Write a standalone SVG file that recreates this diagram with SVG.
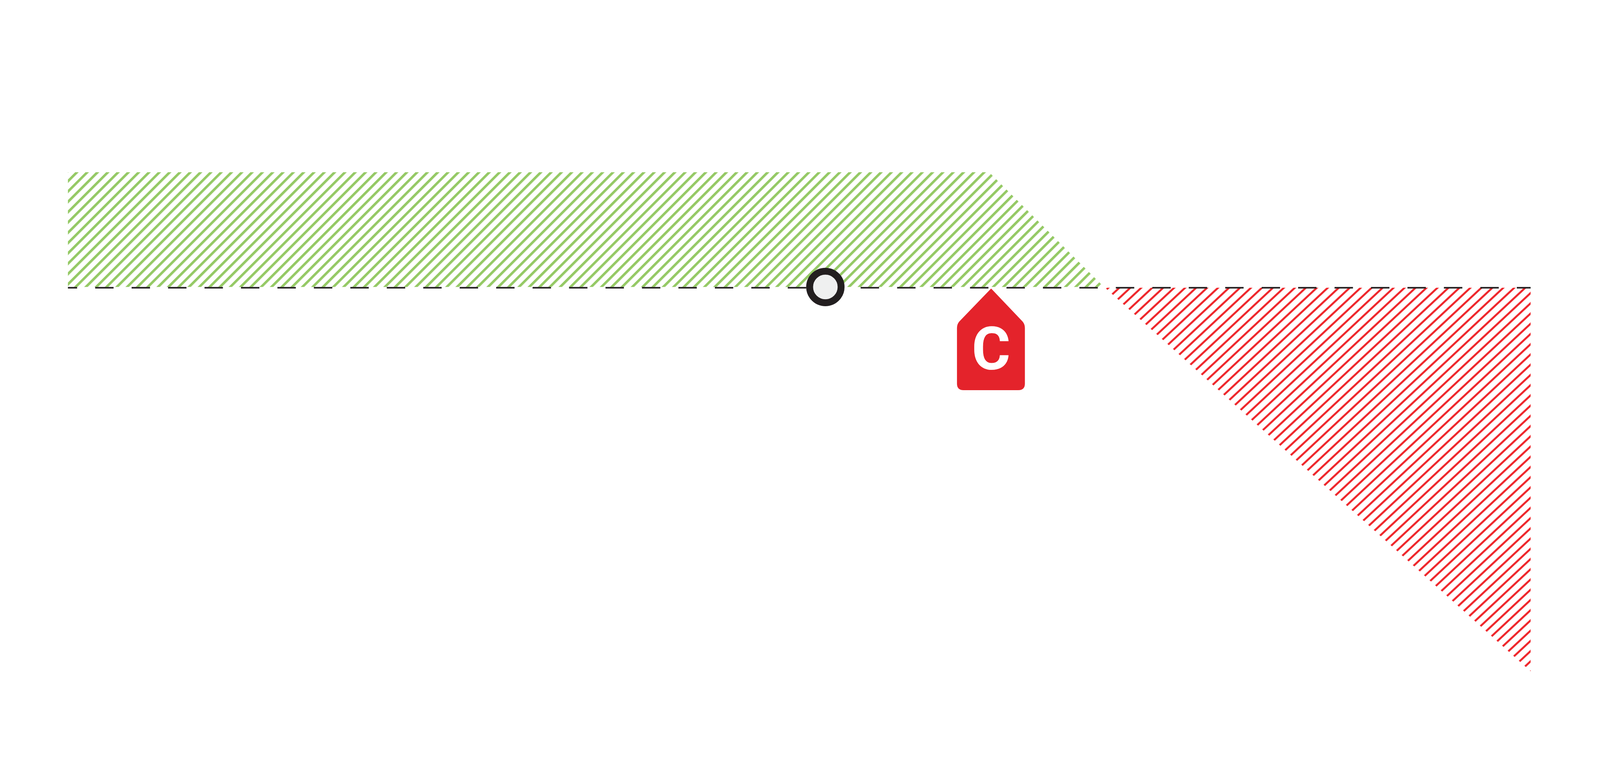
<svg xmlns="http://www.w3.org/2000/svg" width="4167" height="1969" viewBox="0 0 4167 1969">
<defs>
<pattern id="hg" patternUnits="userSpaceOnUse" width="400" height="19" patternTransform="rotate(-45)">
<line x1="0" y1="3" x2="400" y2="3" stroke="#95c965" stroke-width="7"/>
</pattern>
<pattern id="hr" patternUnits="userSpaceOnUse" width="400" height="19.5" patternTransform="rotate(-43)">
<line x1="0" y1="3" x2="400" y2="3" stroke="#ee2328" stroke-width="5"/>
</pattern>
<style>.lbl{font-family:Roboto,"Liberation Sans",sans-serif;font-weight:bold;fill:#fff}</style>
</defs>
<rect width="4167" height="1969" fill="#fff"/>
<g transform="scale(0.9823)">
<g id="green-zone"><polygon points="177,449 2578,449 2877,748 177,748" fill="url(#hg)"/></g>
<g id="red-zone"><polygon points="2880,750 3989,750 3989,1750" fill="url(#hr)"/></g>
<g id="connectors"><line x1="177" y1="750" x2="3989" y2="750" stroke="#231f20" stroke-width="4" stroke-dasharray="48 47" stroke-dashoffset="24"/></g>
<g id="node-circle"><circle cx="2151" cy="748" r="41" fill="#eff0f0" stroke="#231f20" stroke-width="18"/></g>
<g id="node-c">
<path d="M2583,752 L2665,838 Q2671,845 2671,855 L2671,1000 Q2671,1017 2654,1017 L2511,1017 Q2494,1017 2494,1000 L2494,855 Q2494,845 2500,838 Z" fill="#e4232b"/>
<text class="lbl" x="2583" y="963" font-size="154" text-anchor="middle">C</text>
</g>
</g>
</svg>
